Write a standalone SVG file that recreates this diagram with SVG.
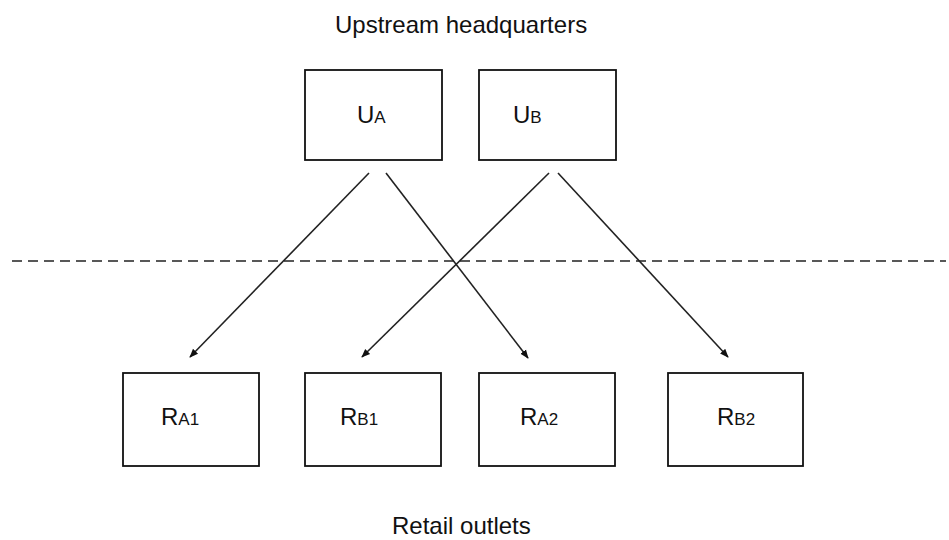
<svg xmlns="http://www.w3.org/2000/svg" width="949" height="540" viewBox="0 0 949 540">
<style>
  .box { fill: #ffffff; stroke: #111111; stroke-width: 1.8; }
  .lbl { font-family: "Liberation Sans", Arial, sans-serif; font-size: 24px; fill: #111111; }
  .sub { font-size: 17px; }
  .conn { stroke: #222222; stroke-width: 1.6; fill: none; marker-end: url(#arr); }
  .dash { stroke: #222222; stroke-width: 1.6; stroke-dasharray: 10 6; fill: none; }
</style>
<defs>
  <marker id="arr" viewBox="0 0 10 10" refX="9" refY="5" markerWidth="5.5" markerHeight="5.5" orient="auto" markerUnits="strokeWidth">
    <path d="M0,1 L10,5 L0,9 Z" fill="#111111"/>
  </marker>
</defs>
<rect width="949" height="540" fill="#ffffff"/>
<text class="lbl" x="335" y="33">Upstream headquarters</text>
<text class="lbl" x="392" y="534">Retail outlets</text>
<g id="UA">
  <rect class="box" x="305" y="70" width="137" height="90"/>
  <text class="lbl" x="357" y="123">U<tspan class="sub">A</tspan></text>
</g>
<g id="UB">
  <rect class="box" x="479" y="70" width="137" height="90"/>
  <text class="lbl" x="513" y="123">U<tspan class="sub">B</tspan></text>
</g>
<g id="RA1">
  <rect class="box" x="123" y="373" width="136" height="93"/>
  <text class="lbl" x="161" y="425">R<tspan class="sub">A1</tspan></text>
</g>
<g id="RB1">
  <rect class="box" x="305" y="373" width="136" height="93"/>
  <text class="lbl" x="340" y="425">R<tspan class="sub">B1</tspan></text>
</g>
<g id="RA2">
  <rect class="box" x="479" y="373" width="136" height="93"/>
  <text class="lbl" x="520" y="425">R<tspan class="sub">A2</tspan></text>
</g>
<g id="RB2">
  <rect class="box" x="668" y="373" width="135" height="93"/>
  <text class="lbl" x="717" y="425">R<tspan class="sub">B2</tspan></text>
</g>
<g id="connectors">
  <line class="dash" x1="12" y1="261" x2="946" y2="261"/>
  <line class="conn" x1="369" y1="173" x2="190" y2="357"/>
  <line class="conn" x1="386" y1="173" x2="528" y2="358"/>
  <line class="conn" x1="549" y1="173" x2="362" y2="357"/>
  <line class="conn" x1="558" y1="173" x2="728" y2="357"/>
</g>
</svg>
